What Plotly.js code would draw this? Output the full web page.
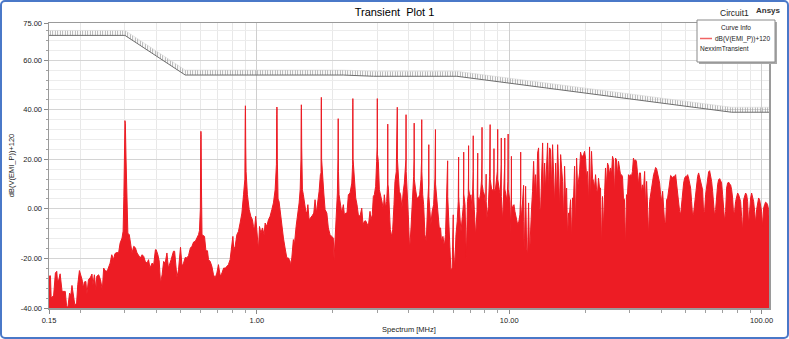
<!DOCTYPE html>
<html><head><meta charset="utf-8">
<script src="https://cdn.plot.ly/plotly-3.0.1.min.js"></script>
<style>
html,body{margin:0;padding:0;background:#fff;}
#wrap{position:relative;width:789px;height:339px;overflow:hidden;}
#chart{position:absolute;left:0;top:0;width:789px;height:339px;}
#frame{position:absolute;left:0;top:0;width:789px;height:339px;box-sizing:border-box;border:2px solid #4a78c8;border-radius:5px;pointer-events:none;}
</style>
</head><body>
<div id="wrap"><div id="chart"></div><div id="frame"></div></div>
<script>
// ---------- DATA ----------
// Spectrum 0.15 - 1.35 MHz  [MHz, dB]
const spectrumLow = [
[0.150,-27.2],[0.152,-27.0],[0.153,-36.0],[0.155,-35.3],[0.156,-36.6],[0.159,-25.9],[0.161,-25.2],[0.162,-29.0],[0.164,-28.6],[0.166,-26.2],
[0.169,-33.3],[0.172,-33.3],[0.174,-33.3],[0.176,-39.0],[0.178,-40.0],[0.181,-34.0],[0.183,-35.0],[0.185,-30.9],[0.187,-34.6],[0.190,-39.0],
[0.193,-38.0],[0.195,-30.6],[0.198,-24.9],[0.200,-26.6],[0.203,-28.7],[0.205,-32.0],[0.207,-29.5],[0.210,-29.3],[0.212,-34.4],[0.215,-28.6],
[0.219,-27.6],[0.222,-26.3],[0.224,-30.6],[0.227,-26.6],[0.230,-32.6],[0.232,-27.2],[0.236,-26.6],[0.240,-28.6],[0.244,-32.6],[0.247,-23.9],
[0.251,-25.0],[0.255,-25.2],[0.259,-23.2],[0.262,-21.9],[0.266,-18.5],[0.270,-20.5],[0.274,-18.0],[0.279,-17.6],[0.283,-17.8],[0.287,-13.8],
[0.292,-11.8],[0.295,-9.0],[0.297,5.0],[0.299,33.0],[0.300,35.6],[0.301,34.5],[0.303,20.0],[0.305,0.0],[0.308,-9.8],[0.312,-10.4],
[0.316,-13.8],[0.320,-17.8],[0.325,-15.1],[0.330,-15.7],[0.335,-17.8],[0.340,-18.8],[0.345,-19.8],[0.351,-18.5],[0.356,-19.2],[0.361,-21.2],
[0.367,-21.9],[0.372,-20.5],[0.377,-23.9],[0.384,-21.9],[0.390,-22.5],[0.396,-16.5],[0.399,-16.5],[0.405,-18.5],[0.410,-21.0],[0.415,-30.0],
[0.421,-26.6],[0.427,-21.2],[0.433,-21.9],[0.440,-17.8],[0.446,-23.9],[0.457,-20.5],[0.467,-17.1],[0.472,-17.1],[0.482,-27.6],[0.489,-24.6],
[0.498,-15.5],[0.505,-23.2],[0.512,-21.9],[0.520,-19.6],[0.528,-19.8],[0.536,-18.8],[0.545,-15.8],[0.553,-15.1],[0.561,-13.4],[0.570,-13.1],
[0.579,-11.8],[0.587,-10.4],[0.592,-8.8],[0.597,0.0],[0.599,28.0],[0.600,31.3],[0.601,30.0],[0.603,8.0],[0.606,-10.4],[0.620,-11.1],
[0.628,-16.9],[0.637,-16.9],[0.643,-20.5],[0.653,-21.2],[0.663,-23.2],[0.673,-26.6],[0.683,-27.9],[0.694,-25.9],[0.704,-22.5],[0.716,-27.2],
[0.727,-25.9],[0.738,-23.9],[0.749,-23.9],[0.761,-23.2],[0.771,-22.5],[0.783,-20.5],[0.796,-15.1],[0.803,-11.1],[0.810,-16.5],[0.820,-15.1],
[0.833,-10.4],[0.845,-9.1],[0.858,-5.7],[0.872,-1.7],[0.885,5.7],[0.896,12.0],[0.899,38.0],[0.900,41.6],[0.901,41.3],[0.903,25.0],
[0.906,15.0],[0.917,5.7],[0.932,-0.3],[0.946,-3.0],[0.960,-4.4],[0.969,-7.1],[0.978,-8.4],[0.989,-3.0],[0.998,-7.7],[1.014,-16.5],
[1.024,-7.1],[1.037,-9.8],[1.052,-7.7],[1.068,-10.4],[1.078,-5.7],[1.094,-7.1],[1.111,-4.4],[1.128,-3.0],[1.146,-0.3],[1.163,2.4],
[1.181,7.7],[1.195,18.0],[1.198,38.0],[1.200,41.1],[1.202,40.5],[1.205,20.0],[1.213,4.0],[1.224,3.0],[1.235,-0.3],[1.255,-8.4],
[1.274,-11.8],[1.293,-15.8],[1.314,-19.8],[1.333,-19.8],[1.354,-21.2]
];
// Spectrum 1.35 - 11.5 MHz  [MHz, dB]
const spectrumMid = [
[1.358,-23.2],[1.375,-19.8],[1.395,-12.4],[1.408,-14.5],[1.430,-7.1],[1.453,-2.4],[1.470,2.4],[1.484,7.7],[1.495,20.0],[1.498,40.0],
[1.500,42.0],[1.502,41.0],[1.505,25.0],[1.515,7.7],[1.528,5.7],[1.543,1.7],[1.562,-1.0],[1.577,-1.7],[1.592,1.7],[1.610,-4.4],
[1.635,-3.7],[1.660,-2.6],[1.680,-1.7],[1.700,3.7],[1.720,-1.7],[1.743,3.0],[1.764,7.1],[1.785,13.8],[1.795,14.5],[1.798,42.0],
[1.800,45.0],[1.802,44.0],[1.805,20.0],[1.818,13.8],[1.841,6.4],[1.863,-0.3],[1.893,-1.7],[1.919,-7.7],[1.949,-10.4],[1.980,-11.1],
[2.008,-11.8],[2.022,-20.5],[2.040,-13.8],[2.065,-3.7],[2.084,6.4],[2.095,20.0],[2.098,34.0],[2.100,36.4],[2.102,35.0],[2.105,15.0],
[2.116,5.7],[2.142,1.7],[2.169,-1.7],[2.201,1.7],[2.222,-2.4],[2.249,-1.7],[2.275,-1.7],[2.304,5.7],[2.340,6.4],[2.377,10.4],
[2.388,13.8],[2.395,18.0],[2.398,42.0],[2.400,44.5],[2.402,43.0],[2.405,20.0],[2.434,11.8],[2.464,4.4],[2.493,1.7],[2.523,-2.4],
[2.562,-3.0],[2.603,0.3],[2.633,-6.4],[2.666,-5.0],[2.698,-4.8],[2.730,-6.4],[2.764,-7.1],[2.807,-1.0],[2.832,-4.4],[2.866,-2.4],
[2.893,5.0],[2.920,5.7],[2.955,9.1],[2.982,19.2],[2.995,25.0],[2.998,42.0],[3.000,44.5],[3.002,43.0],[3.005,22.0],[3.028,19.2],
[3.057,7.7],[3.094,5.7],[3.130,3.0],[3.169,-0.3],[3.199,5.7],[3.237,0.3],[3.267,3.0],[3.295,10.0],[3.298,32.0],[3.300,34.2],
[3.302,33.0],[3.305,10.0],[3.319,8.4],[3.348,-1.0],[3.378,-8.4],[3.421,-11.1],[3.452,-8.4],[3.493,1.7],[3.525,11.1],[3.567,15.0],
[3.595,30.0],[3.598,39.0],[3.600,41.0],[3.602,40.0],[3.605,20.0],[3.633,11.1],[3.668,7.1],[3.712,5.7],[3.755,0.3],[3.803,7.1],
[3.839,10.4],[3.895,20.0],[3.898,35.0],[3.900,38.0],[3.902,37.0],[3.905,15.0],[3.98,-2.4],[4.03,-16.5],[4.08,-7.7],[4.13,1.7],
[4.18,13.1],[4.195,20],[4.198,33],[4.200,34.6],[4.202,33.5],[4.205,12],[4.255,7.7],[4.305,4.4],[4.36,4.4],[4.415,5.7],
[4.467,11.8],[4.495,20],[4.498,34],[4.500,36],[4.502,35],[4.505,15],[4.54,5.7],[4.579,1.7],[4.634,-10.4],[4.689,-13.1],
[4.75,2.4],[4.795,10],[4.798,24],[4.800,25.9],[4.802,25],[4.805,5],[4.85,-1.0],[4.89,-6.4],[4.95,-1.0],[5.016,1.7],
[5.076,12.4],[5.095,20],[5.098,30],[5.100,32],[5.102,31],[5.105,10],[5.167,4.4],[5.23,-2.4],[5.28,-7.7],[5.344,-7.7],
[5.39,-13.1],[5.46,-11.1],[5.53,-15.1],[5.59,-10.4],[5.66,3.7],[5.695,12],[5.698,18],[5.700,19.4],[5.702,18.5],[5.705,5],
[5.75,-2.4],[5.82,-11.8],[5.87,-24.6],[5.94,-23.9],[5.998,-5],[6.000,-2.4],[6.003,-15],[6.08,-23.9],[6.15,-10.4],[6.22,-5.0],
[6.28,3.0],[6.295,12],[6.298,19],[6.300,20.9],[6.302,20],[6.305,5],[6.38,-3.7],[6.44,-9.1],[6.52,-3.0],[6.58,1.7],
[6.595,12],[6.598,21],[6.600,22.9],[6.602,22],[6.605,6],[6.68,1.7],[6.76,-19.8],[6.83,3.0],[6.88,5.7],[6.895,14],
[6.898,24],[6.900,25.5],[6.902,24.5],[6.905,8],[6.99,4.4],[7.05,5.7],[7.13,-1.0],[7.195,15],[7.198,28],[7.200,29.5],
[7.202,28.5],[7.205,8],[7.27,-0.3],[7.36,-11.1],[7.45,-1.0],[7.495,12],[7.498,21],[7.500,22.5],[7.502,21.5],[7.505,5],
[7.61,3.0],[7.70,6.4],[7.77,11.8],[7.795,20],[7.798,31],[7.800,32.9],[7.802,32],[7.805,10],[7.89,7.0],[7.97,5.7],
[8.06,0.3],[8.098,12],[8.100,14],[8.103,3],[8.16,-3.7],[8.26,1.0],[8.36,13.1],[8.395,22],[8.398,32],[8.400,34],
[8.402,33],[8.405,12],[8.52,7.7],[8.60,7.7],[8.66,5.7],[8.695,14],[8.698,22],[8.700,24.3],[8.702,23.5],[8.705,8],
[8.80,7.1],[8.88,11.8],[8.97,15.1],[8.995,22],[8.998,30],[9.000,32.1],[9.002,31],[9.005,12],[9.13,7.7],[9.21,5.7],
[9.295,18],[9.298,27],[9.300,28.6],[9.302,27.5],[9.305,5],[9.42,-5.0],[9.53,7.1],[9.595,18],[9.598,27],[9.600,28.6],
[9.602,27.5],[9.605,8],[9.70,5.7],[9.79,3.0],[9.88,11.1],[9.895,20],[9.898,28],[9.900,30.2],[9.902,29],[9.905,8],
[10.06,3.0],[10.15,-9.8],[10.195,10],[10.198,19],[10.200,21.2],[10.202,20],[10.205,2],[10.31,0.3],[10.44,1.7],[10.53,-1.0],
[10.66,-4.4],[10.80,-6.4],[10.92,-5.0],[11.02,-2.4],[11.095,5],[11.098,20],[11.100,22.9],[11.102,21.5],[11.105,2],[11.19,-3.7],
[11.35,7.7],[11.395,8],[11.400,9.5],[11.405,-5],[11.45,-15.8]
];
// Spectrum 11.5 - 34 MHz
const freqHigh = [
11.50,11.61,11.72,11.82,11.93,12.04,12.15,12.26,12.37,12.49,
12.60,12.72,12.84,12.95,13.07,13.19,13.31,13.43,13.56,13.68,
13.81,13.93,14.06,14.19,14.32,14.45,14.58,14.72,14.85,14.99,
15.13,15.27,15.41,15.55,15.69,15.83,15.98,16.13,16.27,16.42,
16.57,16.72,16.88,17.03,17.18,17.34,17.50,17.66,17.82,17.99,
18.15,18.32,18.49,18.66,18.82,18.99,19.17,19.34,19.52,19.70,
19.88,20.06,20.25,20.43,20.62,20.81,21.00,21.19,21.39,21.58,
21.78,21.98,22.18,22.38,22.58,22.79,23.00,23.21,23.42,23.64,
23.86,24.07,24.30,24.52,24.74,24.97,25.20,25.43,25.66,25.89,
26.13,26.37,26.61,26.85,27.10,27.35,27.60,27.85,28.11,28.36,
28.62,28.88,29.15,29.41,29.68,29.95,30.23,30.50,30.78,31.06,
31.34,31.63,31.92,32.22,32.51,32.81,33.11,33.41,33.72,34.03
];
const levelHigh = [
-11.8,9.1,-15.8,-18.5,2.4,-18.5,-5.0,0.3,7.1,19.2,
7.1,13.8,3.0,22.5,24.6,0.3,-0.3,9.7,26.6,4.4,
18.5,7.7,21.2,26.6,6.4,24.6,23.9,8.4,25.9,9.1,
1.7,18.5,4.4,25.9,9.7,0.3,21.9,15.1,11.1,-5.0,
17.2,3.0,8.4,-11.8,-1.7,-1.7,3.7,-12.4,4.4,4.4,
17.2,-7.7,20.5,8.4,12.4,14.5,22.9,21.2,21.2,21.9,
23.2,20.5,12.4,15.1,2.4,25.0,3.0,23.2,12.4,11.1,
8.4,13.8,7.7,6.4,12.4,8.4,8.4,-15.8,5.0,-7.7,
5.7,16.5,9.1,18.5,17.2,13.8,16.5,13.8,21.2,19.8,
5.7,20.5,19.8,13.8,19.2,15.1,13.8,13.8,13.1,4.4,
3.7,-15.8,5.7,5.7,13.8,13.1,13.8,13.1,15.1,20.5,
19.2,19.8,19.2,14.5,9.7,14.5,14.5,6.4,9.7,7.1
];
// Spectrum 34 - 107 MHz
const freqTop = [
34.39,34.71,35.02,35.35,35.67,36.00,36.33,36.66,37.00,37.33,
37.67,38.02,38.37,38.72,39.08,39.44,39.80,40.16,40.53,40.91,
41.28,41.66,42.04,42.43,42.82,43.21,43.61,44.01,44.41,44.81,
45.22,45.64,46.05,46.48,46.90,47.33,47.76,48.20,48.64,49.10,
49.55,50.00,50.46,50.92,51.38,51.85,52.33,52.80,53.29,53.78,
54.27,54.77,55.27,55.78,56.29,56.81,57.33,57.85,58.38,58.92,
59.46,60.00,60.55,61.11,61.67,62.23,62.80,63.38,63.96,64.55,
65.14,65.74,66.34,66.95,67.56,68.18,68.80,69.43,70.07,70.72,
71.37,72.02,72.68,73.35,74.02,74.70,75.38,76.07,76.77,77.47,
78.18,78.90,79.62,80.35,81.09,81.83,82.58,83.34,84.11,84.88,
85.66,86.44,87.23,88.03,88.84,89.65,90.48,91.31,92.14,92.98,
93.83,94.69,95.56,96.44,97.32,98.21,99.11,100.0,100.9,101.9,
102.8,103.7,104.7,105.6,106.6,107.0
];
const levelTop = [
15.1,0.3,11.1,0.3,-11.1,3.0,5.7,8.4,12.4,13.8,
15.1,16.7,16.2,14.5,12.4,10.4,5.7,3.0,7.1,0.3,
-5.7,-5.7,3.7,4.4,8.4,12.4,13.5,13.1,12.7,13.1,
13.1,13.8,9.7,5.7,3.0,-1.0,-2.4,3.0,7.1,10.4,
12.4,13.1,13.1,13.8,12.4,10.4,8.4,3.0,-3.0,-1.7,
2.4,7.1,9.7,13.1,14.5,12.4,11.1,9.7,7.7,-1.7,
-1.0,5.7,9.7,13.1,14.9,15.4,13.8,11.1,7.1,-0.3,
-3.0,-0.3,5.7,9.7,11.8,12.2,11.4,10.4,5.7,-1.7,
-5.0,-1.0,8.4,10.4,10.8,10.0,9.7,7.7,4.4,-2.4,
-1.0,3.0,5.7,6.4,5.7,4.4,3.0,-3.0,-9.1,3.7,
5.7,6.4,5.7,3.0,-6.4,-0.3,4.4,6.4,5.0,3.0,
-1.0,-5.7,-0.3,3.0,4.4,3.7,1.7,-1.0,-7.1,0.3,
1.7,2.7,2.4,1.7,-0.3,-3.0
];
// Limit line
const limitFreq = [0.15, 0.30, 0.52, 2.2, 2.9, 6.2, 76, 107];
const limitDb   = [70, 70, 54, 54, 53.5, 53.5, 39, 39];
// Axis ticks
const xTickVals = [0.15, 1, 10, 100];
const xTickText = ['0.15', '1.00', '10.00', '100.00'];
const xMinorVals = [0.2,0.3,0.4,0.5,0.6,0.7,0.8,0.9,2,3,4,5,6,7,8,9,20,30,40,50,60,70,80,90];
const yTickVals = [-40, -20, 0, 20, 40, 60, 75];
const yTickText = ['-40.00', '-20.00', '0.00', '20.00', '40.00', '60.00', '75.00'];
const yMinorVals = [-36,-32,-28,-24,-16,-12,-8,-4,4,8,12,16,24,28,32,36,44,48,52,56,64,68,72];

// ---------- STYLE ----------
const X_RANGE = [0.15, 107];
const Y_RANGE = [-40, 75];
const HATCH_DB = 2;
const RED = '#ed1c24';
const FONT = 'Liberation Sans, Arial, sans-serif';

const specX = spectrumLow.map(p => p[0]).concat(spectrumMid.map(p => p[0]), freqHigh, freqTop);
const specY = spectrumLow.map(p => p[1]).concat(spectrumMid.map(p => p[1]), levelHigh, levelTop);

const traces = [
  { x: [specX[0], specX[specX.length - 1]], y: [Y_RANGE[0], Y_RANGE[0]], mode: 'lines',
    line: { width: 0, color: RED }, showlegend: false, hoverinfo: 'skip' },
  { x: specX, y: specY, mode: 'lines', name: 'dB(V(EMI_P))+120',
    line: { color: RED, width: 1 }, fill: 'tonexty', fillcolor: RED, showlegend: false },
  { x: limitFreq, y: limitDb.map(v => v + HATCH_DB), mode: 'lines',
    line: { color: '#dadada', width: 0.6 }, showlegend: false, hoverinfo: 'skip' },
  { x: limitFreq, y: limitDb, mode: 'lines', name: 'limit',
    line: { color: '#6e6e6e', width: 1 }, fill: 'tonexty', fillcolor: 'rgba(0,0,0,0)',
    fillpattern: { shape: '|', fgcolor: '#a2a2a2', bgcolor: 'rgba(255,255,255,0)', size: 2.5, solidity: 0.35 },
    showlegend: false }
];

// plot-area geometry in px (for legend box placement)
const L = 49, R = 20, T = 23, B = 31, W = 789, H = 339;
const pw = W - L - R, ph = H - T - B;
const px = v => (v - L) / pw;
const py = v => (H - B - v) / ph;

const layout = {
  width: W, height: H,
  margin: { l: L, r: R, t: T, b: B, pad: 0 },
  paper_bgcolor: '#ffffff', plot_bgcolor: '#ffffff',
  font: { family: FONT, color: '#222' },
  title: { text: 'Transient\u00a0 Plot 1', font: { family: FONT, size: 11, color: '#000' },
           x: 0.5, xref: 'container', y: 1 - 12 / H, yref: 'container', yanchor: 'middle' },
  xaxis: {
    type: 'log', range: [Math.log10(X_RANGE[0]), Math.log10(X_RANGE[1])],
    tickmode: 'array', tickvals: xTickVals, ticktext: xTickText,
    ticks: 'outside', ticklen: 4, tickcolor: '#8a8a8a', tickfont: { size: 7.5, color: '#222' },
    showgrid: true, gridcolor: '#cfcfcf', gridwidth: 1,
    minor: { tickmode: 'array', tickvals: xMinorVals, ticks: 'outside', ticklen: 3, tickcolor: '#a0a0a0',
             showgrid: true, gridcolor: '#e8e8e8', gridwidth: 1 },
    showline: true, linecolor: '#9a9a9a', linewidth: 1.5, mirror: true, zeroline: false,
    title: { text: 'Spectrum [MHz]', font: { size: 7.5, color: '#222' }, standoff: 3 }
  },
  yaxis: {
    range: Y_RANGE, tickmode: 'array', tickvals: yTickVals, ticktext: yTickText,
    ticks: 'outside', ticklen: 4, tickcolor: '#8a8a8a', tickfont: { size: 7.5, color: '#222' },
    showgrid: true, gridcolor: '#d4d4d4', gridwidth: 1,
    minor: { tickmode: 'array', tickvals: yMinorVals, ticks: 'outside', ticklen: 2, tickcolor: '#a0a0a0',
             showgrid: true, gridcolor: '#ececec', gridwidth: 1 },
    showline: true, linecolor: '#9a9a9a', linewidth: 1.5, mirror: true, zeroline: false,
    title: { text: 'dB(V(EMI_P))+120', font: { size: 7.5, color: '#222' }, standoff: 5 }
  },
  shapes: [
    { type: 'rect', xref: 'paper', yref: 'paper', x0: px(699), x1: px(777), y0: py(64), y1: py(22),
      fillcolor: '#a8a8a8', line: { width: 0 }, layer: 'above' },
    { type: 'rect', xref: 'paper', yref: 'paper', x0: px(697), x1: px(775), y0: py(62), y1: py(20),
      fillcolor: '#ffffff', line: { color: '#8a8a8a', width: 1 }, layer: 'above' },
    { type: 'line', xref: 'paper', yref: 'paper', x0: px(700), x1: px(712), y0: py(38.5), y1: py(38.5),
      line: { color: '#f06464', width: 1.5 }, layer: 'above' }
  ],
  annotations: [
    { text: 'Curve Info', xref: 'paper', yref: 'paper', x: px(736), y: py(27.5), xanchor: 'center', yanchor: 'middle',
      showarrow: false, font: { size: 6.5, color: '#222' } },
    { text: 'dB(V(EMI_P))+120', xref: 'paper', yref: 'paper', x: px(713), y: py(39), xanchor: 'left', yanchor: 'middle',
      showarrow: false, font: { size: 6.5, color: '#222' } },
    { text: 'NexximTransient', xref: 'paper', yref: 'paper', x: px(697.5), y: py(48.5), xanchor: 'left', yanchor: 'middle',
      showarrow: false, font: { size: 6.5, color: '#222' } },
    { text: 'Circuit1', xref: 'paper', yref: 'paper', x: px(734), y: py(12.5), xanchor: 'center', yanchor: 'middle',
      showarrow: false, font: { size: 8.5, color: '#222' } },
    { text: '<b>Ansys</b>', xref: 'paper', yref: 'paper', x: px(768), y: py(10), xanchor: 'center', yanchor: 'middle',
      showarrow: false, font: { size: 8, color: '#333' } }
  ],
  showlegend: false,
  hovermode: false
};

Plotly.newPlot('chart', traces, layout, { staticPlot: true, displayModeBar: false });
</script>
</body></html>
